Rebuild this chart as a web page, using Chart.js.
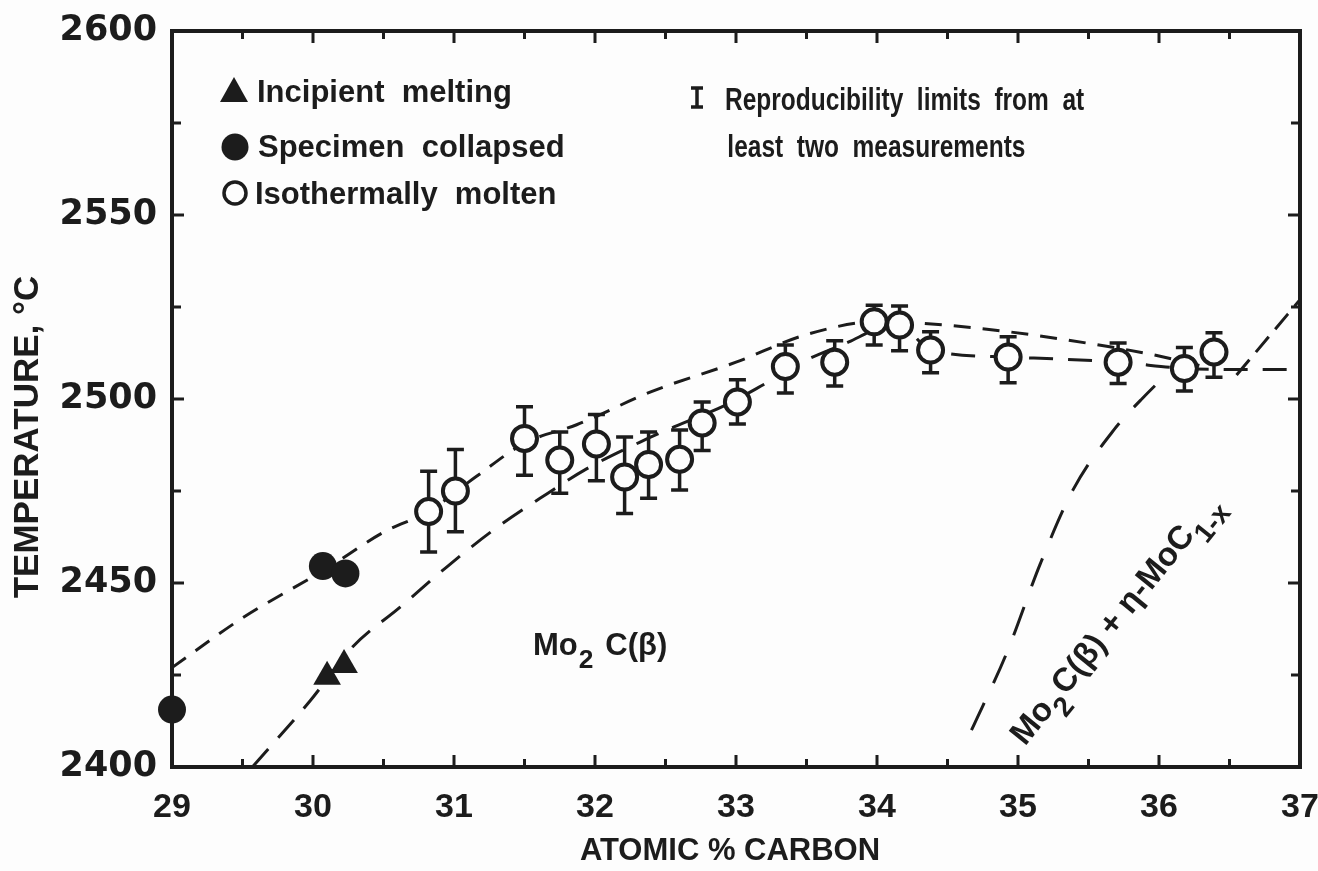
<!DOCTYPE html>
<html>
<head>
<meta charset="utf-8">
<script src="https://cdn.jsdelivr.net/npm/chart.js@4.4.1/dist/chart.umd.min.js"></script>
<style>
    html, body { margin: 0; padding: 0; background: #fdfdfd; }
    #meltChart { display: block; }
</style>
</head>
<body>
<canvas id="meltChart" width="1318" height="871"></canvas>
<script>
// values
const incipientX = [30.10, 30.22];
const incipientY = [2424.5, 2427.7];

const collapsedX = [29.0, 30.07, 30.23];
const collapsedY = [2415.6, 2454.6, 2452.6];

const moltenX = [30.82, 31.01, 31.50, 31.75, 32.01, 32.21, 32.38, 32.60, 32.76, 33.01,
                 33.35, 33.70, 33.98, 34.16, 34.38, 34.93, 35.71, 36.18, 36.39];
const moltenY = [2469.4, 2475.0, 2489.3, 2483.4, 2487.8, 2478.8, 2482.2, 2483.6, 2493.5, 2499.2,
                 2508.8, 2510.0, 2521.0, 2520.1, 2513.3, 2511.4, 2510.0, 2508.3, 2512.8];
const moltenLow = [2458.4, 2463.9, 2479.3, 2474.4, 2477.8, 2468.9, 2473.0, 2475.3, 2486.0, 2493.2,
                   2501.6, 2503.5, 2514.7, 2513.1, 2507.1, 2504.4, 2504.2, 2502.2, 2505.9];
const moltenHigh = [2480.4, 2486.3, 2497.9, 2491.0, 2495.8, 2489.7, 2491.0, 2491.6, 2499.2, 2505.2,
                    2514.7, 2515.8, 2525.5, 2525.3, 2518.3, 2516.9, 2515.2, 2514.0, 2518.0];

const upperX = [29.0, 29.5, 30.1, 30.5, 30.82, 31.16, 31.5, 31.87, 32.4, 33.0, 33.5, 34.0, 34.3, 34.84, 35.52, 35.96, 36.3];
const upperY = [2427, 2440.5, 2454, 2463.8, 2469.5, 2479, 2488, 2493, 2502, 2510, 2517.5, 2521, 2520.6, 2518.7, 2515, 2512, 2509];

const lowerX = [29.57, 29.98, 30.28, 30.62, 30.95, 31.28, 31.61, 31.94, 32.32, 32.56, 32.93, 33.2, 33.5, 33.8, 34.0, 34.16, 34.38, 34.93, 35.71, 36.18, 36.6, 37.0];
const lowerY = [2400, 2418, 2432.6, 2443.5, 2454.4, 2464.4, 2473, 2481, 2488.3, 2492.4, 2498.4, 2504, 2510.6, 2515.5, 2519, 2520, 2513.3, 2511.4, 2510, 2508.3, 2508, 2508];

const etaX = [34.67, 34.92, 35.16, 35.39, 35.68, 35.87, 36.10, 36.25];
const etaY = [2410, 2431, 2455.4, 2475.3, 2491.6, 2499.7, 2507.9, 2511];

const rightX = [36.55, 37.0];
const rightY = [2506.5, 2527];

const xTicks = [29, 30, 31, 32, 33, 34, 35, 36, 37];
const yTicks = [2400, 2450, 2500, 2550, 2600];

const ink = '#1c1c1c';
const sans = "'Liberation Sans', Arial, sans-serif";

function pts(xs, ys) {
    return xs.map((v, i) => ({x: v, y: ys[i]}));
}

function dashed(xs, ys, dash) {
    return {
        type: 'line',
        data: pts(xs, ys),
        borderColor: ink,
        borderWidth: 3,
        borderDash: dash,
        pointRadius: 0,
        fill: false,
        cubicInterpolationMode: 'monotone',
        clip: false
    };
}

// the scales must not push the plot frame around
function noPad(s) {
    s.paddingTop = 0;
    s.paddingBottom = 0;
    s.paddingLeft = 0;
    s.paddingRight = 0;
}

// draws a string with subscript pieces, starting at current origin
function drawPieces(ctx, pieces, size) {
    let x = 0;
    pieces.forEach(p => {
        const s = p.sub ? size * 0.85 : size;
        ctx.font = 'bold ' + s + 'px ' + sans;
        ctx.fillText(p.t, x, p.sub ? size * 0.42 : 0);
        x += ctx.measureText(p.t).width + (p.gap || 0);
    });
}

const overlay = {
    id: 'overlay',
    beforeDatasetsDraw(chart) {
        const {ctx, scales: {x, y}} = chart;
        ctx.save();
        ctx.strokeStyle = ink;
        ctx.lineWidth = 3.5;
        moltenX.forEach((v, i) => {
            const px = x.getPixelForValue(v);
            const lo = y.getPixelForValue(moltenLow[i]);
            const hi = y.getPixelForValue(moltenHigh[i]);
            ctx.beginPath();
            ctx.moveTo(px, lo); ctx.lineTo(px, hi);
            ctx.moveTo(px - 8.5, lo); ctx.lineTo(px + 8.5, lo);
            ctx.moveTo(px - 8.5, hi); ctx.lineTo(px + 8.5, hi);
            ctx.stroke();
        });
        ctx.restore();
    },
    afterDraw(chart) {
        const {ctx, chartArea: a, scales: {x, y}} = chart;
        ctx.save();
        ctx.strokeStyle = ink;
        ctx.fillStyle = ink;

        // frame
        ctx.lineWidth = 4;
        ctx.strokeRect(a.left, a.top, a.right - a.left, a.bottom - a.top);

        // inward ticks on all four sides
        ctx.lineWidth = 3;
        ctx.beginPath();
        x.ticks.forEach(t => {
            const px = x.getPixelForValue(t.value);
            const len = Number.isInteger(t.value) ? 12 : 8;
            ctx.moveTo(px, a.bottom); ctx.lineTo(px, a.bottom - len);
            ctx.moveTo(px, a.top); ctx.lineTo(px, a.top + len);
        });
        y.ticks.forEach(t => {
            const py = y.getPixelForValue(t.value);
            const len = t.value % 50 === 0 ? 12 : 9;
            ctx.moveTo(a.left, py); ctx.lineTo(a.left + len, py);
            ctx.moveTo(a.right, py); ctx.lineTo(a.right - len, py);
        });
        ctx.stroke();

        // legend, upper left
        const lx = 234;
        ctx.beginPath();
        ctx.moveTo(lx, 77);
        ctx.lineTo(lx + 14, 102);
        ctx.lineTo(lx - 14, 102);
        ctx.closePath();
        ctx.fill();
        ctx.beginPath();
        ctx.arc(lx + 1, 147, 13.5, 0, Math.PI * 2);
        ctx.fill();
        ctx.beginPath();
        ctx.lineWidth = 3.5;
        ctx.arc(lx + 1, 193, 11, 0, Math.PI * 2);
        ctx.stroke();

        ctx.font = 'bold 31px ' + sans;
        ctx.textBaseline = 'alphabetic';
        ctx.fillText('Incipient  melting', 257, 102);
        ctx.fillText('Specimen  collapsed', 258, 157);
        ctx.fillText('Isothermally  molten', 255, 204);

        // reproducibility note with error-bar glyph
        const gx = 697;
        ctx.lineWidth = 3.5;
        ctx.beginPath();
        ctx.moveTo(gx, 88); ctx.lineTo(gx, 107);
        ctx.moveTo(gx - 6, 88); ctx.lineTo(gx + 6, 88);
        ctx.moveTo(gx - 6, 107); ctx.lineTo(gx + 6, 107);
        ctx.stroke();
        ctx.save();
        ctx.translate(725, 0);
        ctx.scale(0.79, 1);
        ctx.fillText('Reproducibility  limits  from  at', 0, 110);
        ctx.fillText('least  two  measurements', 3, 157);
        ctx.restore();

        // phase labels
        ctx.save();
        ctx.translate(x.getPixelForValue(31.56), y.getPixelForValue(2430.4));
        drawPieces(ctx, [{t: 'Mo', gap: 1}, {t: '2', sub: true, gap: 12}, {t: 'C(β)'}], 31);
        ctx.restore();

        ctx.save();
        ctx.translate(x.getPixelForValue(35.05), y.getPixelForValue(2405.5));
        ctx.rotate(-51 * Math.PI / 180);
        drawPieces(ctx, [{t: 'Mo'}, {t: '2', sub: true, gap: 2}, {t: 'C(β) + η-MoC'}, {t: '1-x', sub: true}], 33);
        ctx.restore();

        // axis titles
        ctx.font = 'bold 31px ' + sans;
        ctx.textAlign = 'center';
        ctx.textBaseline = 'middle';
        ctx.fillText('ATOMIC % CARBON', 730, 851);
        ctx.save();
        ctx.translate(28, 437);
        ctx.rotate(-Math.PI / 2);
        ctx.font = 'bold 35px ' + sans;
        ctx.fillText('TEMPERATURE, °C', 0, 0);
        ctx.restore();

        ctx.restore();
    }
};

new Chart(document.getElementById('meltChart'), {
    type: 'scatter',
    data: {
        datasets: [
            {
                label: 'Incipient melting',
                data: pts(incipientX, incipientY),
                pointStyle: 'triangle',
                pointRadius: 16,
                backgroundColor: ink,
                borderColor: ink,
                borderWidth: 0,
                clip: false
            },
            {
                label: 'Specimen collapsed',
                data: pts(collapsedX, collapsedY),
                pointStyle: 'circle',
                pointRadius: 14,
                backgroundColor: ink,
                borderColor: ink,
                borderWidth: 0,
                clip: false
            },
            {
                label: 'Isothermally molten',
                data: pts(moltenX, moltenY),
                pointStyle: 'circle',
                pointRadius: 12.5,
                backgroundColor: '#fdfdfd',
                borderColor: ink,
                borderWidth: 4,
                clip: false
            },
            dashed(upperX, upperY, [17, 12]),
            dashed(lowerX, lowerY, [24, 15]),
            dashed(etaX, etaY, [30, 22]),
            dashed(rightX, rightY, [20, 10])
        ]
    },
    options: {
        responsive: false,
        animation: false,
        events: [],
        layout: {
            padding: {top: 31, right: 18, left: 0, bottom: 0}
        },
        plugins: {
            legend: {display: false},
            title: {display: false},
            tooltip: {enabled: false}
        },
        scales: {
            x: {
                type: 'linear',
                min: 29,
                max: 37,
                afterFit: s => { s.height = 104; noPad(s); },
                afterBuildTicks: s => {
                    s.ticks = [];
                    for (let i = 0; i < xTicks.length; i++) {
                        s.ticks.push({value: xTicks[i]});
                        if (i < xTicks.length - 1) s.ticks.push({value: xTicks[i] + 0.5});
                    }
                },
                ticks: {
                    autoSkip: false,
                    maxRotation: 0,
                    padding: 20,
                    color: ink,
                    font: {family: sans, size: 34, weight: 'bold'},
                    callback: v => Number.isInteger(v) ? String(v) : ''
                },
                grid: {display: false, drawTicks: false},
                border: {display: false}
            },
            y: {
                type: 'linear',
                min: 2400,
                max: 2600,
                afterFit: s => { s.width = 172; noPad(s); },
                afterBuildTicks: s => {
                    s.ticks = [];
                    for (let i = 0; i < yTicks.length; i++) {
                        s.ticks.push({value: yTicks[i]});
                        if (i < yTicks.length - 1) s.ticks.push({value: yTicks[i] + 25});
                    }
                },
                ticks: {
                    autoSkip: false,
                    padding: 15,
                    color: ink,
                    font: {family: "'DejaVu Sans', sans-serif", size: 35, weight: 'bold'},
                    callback: v => v % 50 === 0 ? String(v) : ''
                },
                grid: {display: false, drawTicks: false},
                border: {display: false}
            }
        }
    },
    plugins: [overlay]
});
</script>
</body>
</html>
